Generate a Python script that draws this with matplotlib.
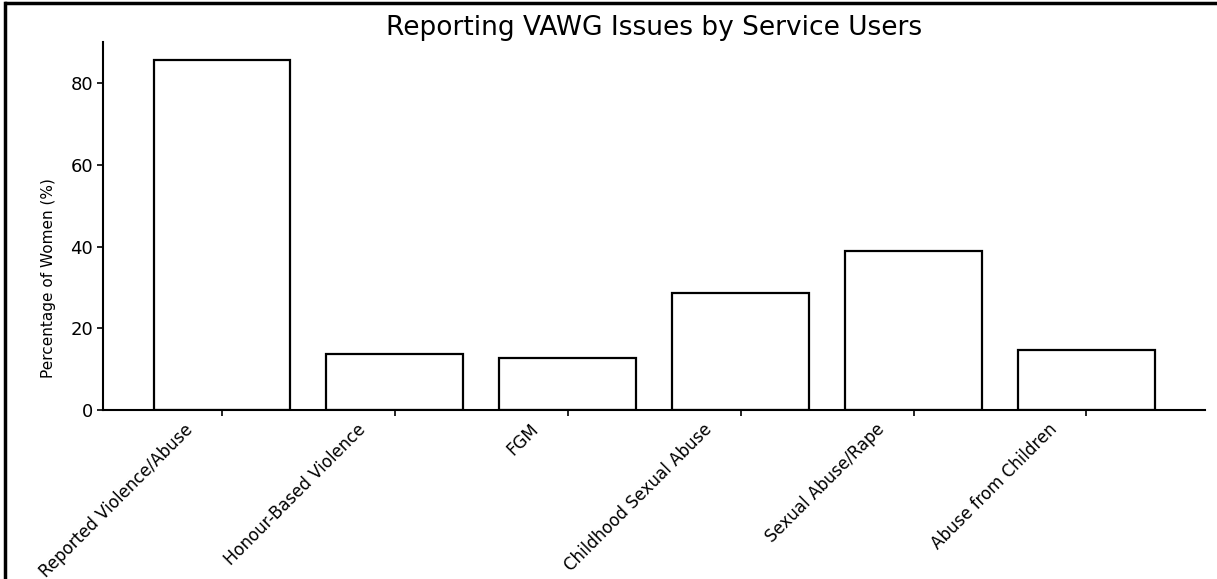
import matplotlib
matplotlib.use("Agg")
import matplotlib.pyplot as plt
import matplotlib.transforms as mtransforms
from matplotlib.lines import Line2D

# data
categories = [
    "Reported Violence/Abuse",
    "Honour-Based Violence",
    "FGM",
    "Childhood Sexual Abuse",
    "Sexual Abuse/Rape",
    "Abuse from Children",
]
percent_women = [85.6, 13.7, 12.8, 28.7, 39.0, 14.7]
y_ticks = [0, 20, 40, 60, 80]

plt.rcParams['font.family'] = ['DejaVu Sans']

fig = plt.figure(figsize=(12.17, 5.79), dpi=100)
ax = fig.add_axes([0.085, 0.292, 0.905, 0.635])

x = range(len(categories))
ax.bar(x, percent_women, width=0.79, color='white', edgecolor='black', linewidth=1.6)

ax.set_ylim(0, 90)
ax.set_yticks(y_ticks)
ax.set_xticks(list(x))
ax.set_xticklabels(categories, rotation=45, ha='right', rotation_mode='anchor', fontsize=12)
ax.tick_params(axis='y', labelsize=13)
ax.tick_params(axis='both', length=4, width=1.2)

# labels sit a bit left of their ticks in the reference
shift = mtransforms.ScaledTranslation(-0.38, 0.0, fig.dpi_scale_trans)
for lbl in ax.get_xticklabels():
    lbl.set_transform(lbl.get_transform() + shift)

ax.set_ylabel("Percentage of Women (%)", fontsize=11)
ax.yaxis.set_label_coords(-0.043, 0.36)
ax.set_title("Reporting VAWG Issues by Service Users", fontsize=19, pad=5)

for side in ['top', 'right']:
    ax.spines[side].set_visible(False)
for side in ['left', 'bottom']:
    ax.spines[side].set_linewidth(1.5)

# page border from the scanned source
fig.add_artist(Line2D([0.005, 1.0], [0.994, 0.994], color='black', linewidth=2.5, transform=fig.transFigure))
fig.add_artist(Line2D([0.004, 0.004], [0.0, 0.994], color='black', linewidth=2.5, transform=fig.transFigure))

fig.savefig("out.png", dpi=100)
